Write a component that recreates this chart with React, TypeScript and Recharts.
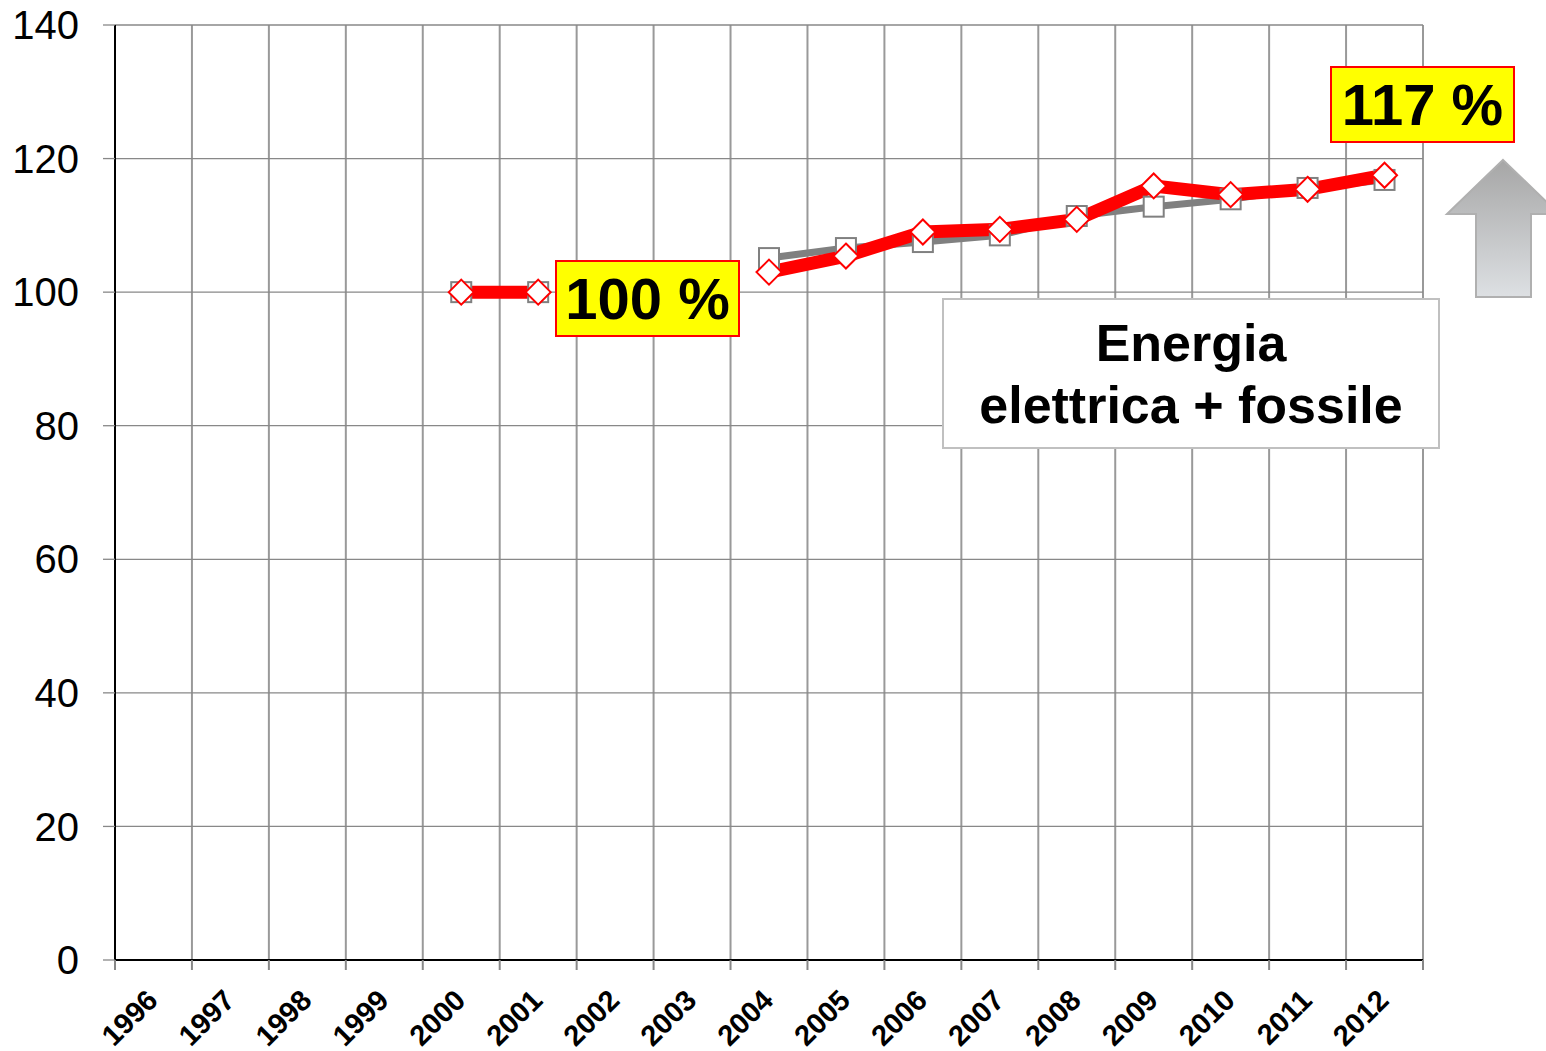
import { LineChart, Line, XAxis, YAxis, CartesianGrid } from 'recharts'

// years on the category axis
const years = [1996, 1997, 1998, 1999, 2000, 2001, 2002, 2003, 2004, 2005, 2006, 2007, 2008, 2009, 2010, 2011, 2012]

// red series: energia elettrica + fossile (index, 2000 = 100)
const totalValues = [null, null, null, null, 100, 100, null, null, 103, 105.4, 109, 109.4, 110.9, 115.9, 114.6, 115.4, 117.5]

// gray series underneath
const baseValues = [null, null, null, null, 100, 100, null, null, 105.1, 106.6, 107.5, 108.5, 111.4, 112.8, 113.9, 115.6, 116.8]

const yTicks = [0, 20, 40, 60, 80, 100, 120, 140]

const data = years.map((year, i) => ({ year, total: totalValues[i], base: baseValues[i] }))

// band edges between the years, where grid lines and tick marks sit
const edges = [...years.map((y) => y - 0.5), years[years.length - 1] + 0.5]
const xTicks = [...edges, ...years].sort((a, b) => a - b)

const FONT = '"Liberation Sans", Arial, sans-serif'

const YearTick = (props: any) => {
  const { x, y, payload } = props
  const v = payload.value
  if (!Number.isInteger(v)) {
    return <line x1={x} y1={y} x2={x} y2={y + 10} stroke="#888" strokeWidth={2} />
  }
  const tx = x + 6
  const ty = y + 42
  return (
    <text
      x={tx}
      y={ty}
      transform={`rotate(-45 ${tx} ${ty})`}
      textAnchor="end"
      fontFamily={FONT}
      fontWeight="bold"
      fontSize={29}
      fill="#000"
    >
      {v}
    </text>
  )
}

const Diamond = (props: any) => {
  const { cx, cy, index } = props
  if (cx == null || cy == null) return <g key={`dm-${index}`} />
  const r = 12.5
  return (
    <path
      key={`dm-${index}`}
      d={`M${cx},${cy - r} L${cx + r},${cy} L${cx},${cy + r} L${cx - r},${cy} Z`}
      fill="#fff"
      stroke="#ff0000"
      strokeWidth={2}
    />
  )
}

const Square = (props: any) => {
  const { cx, cy, index } = props
  if (cx == null || cy == null) return <g key={`sq-${index}`} />
  const s = 10
  return <rect key={`sq-${index}`} x={cx - s} y={cy - s} width={s * 2} height={s * 2} fill="#fff" stroke="#808080" strokeWidth={2} />
}

const yellowBox: React.CSSProperties = {
  position: 'absolute',
  width: 181,
  height: 73,
  background: '#ffff00',
  border: '2px solid #ff0000',
  fontFamily: FONT,
  fontWeight: 'bold',
  fontSize: 58,
  lineHeight: '73px',
  textAlign: 'center',
  color: '#000',
}

export default function App() {
  return (
    <div style={{ position: 'absolute', left: 0, top: 0, width: 1546, height: 1051, background: '#fff' }}>
      <LineChart width={1546} height={1051} data={data} margin={{ top: 25, right: 123, left: 0, bottom: 0 }}>
        <CartesianGrid
          horizontal={false}
          stroke="#999"
          strokeWidth={2}
          verticalCoordinatesGenerator={({ offset }: any) =>
            edges.map((e) => offset.left + ((e - edges[0]) / (edges[edges.length - 1] - edges[0])) * offset.width)
          }
        />
        <CartesianGrid vertical={false} stroke="#888" strokeWidth={1.3} />
        <XAxis
          dataKey="year"
          type="number"
          domain={[edges[0], edges[edges.length - 1]]}
          ticks={xTicks}
          interval={0}
          tick={<YearTick />}
          tickLine={false}
          tickSize={0}
          tickMargin={0}
          height={91}
          axisLine={{ stroke: '#000', strokeWidth: 2 }}
        />
        <YAxis
          domain={[0, 140]}
          ticks={yTicks}
          interval={0}
          width={115}
          tickSize={12}
          tickMargin={24}
          tickLine={{ stroke: '#888', strokeWidth: 1.3 }}
          axisLine={{ stroke: '#000', strokeWidth: 2 }}
          tick={{ fill: '#000', fontSize: 40, fontFamily: FONT }}
        />
        <Line
          dataKey="base"
          type="linear"
          stroke="#808080"
          strokeWidth={7}
          dot={<Square />}
          activeDot={false}
          isAnimationActive={false}
        />
        <Line
          dataKey="total"
          type="linear"
          stroke="#ff0000"
          strokeWidth={13}
          dot={<Diamond />}
          activeDot={false}
          isAnimationActive={false}
        />
      </LineChart>

      <div style={{ ...yellowBox, left: 555, top: 260 }}>100 %</div>
      <div style={{ ...yellowBox, left: 1330, top: 66 }}>117 %</div>

      <div
        style={{
          position: 'absolute',
          left: 942,
          top: 298,
          width: 494,
          background: '#fff',
          border: '2px solid #c0c0c0',
          fontFamily: FONT,
          fontWeight: 'bold',
          fontSize: 52,
          lineHeight: '62px',
          textAlign: 'center',
          color: '#000',
          boxSizing: 'content-box',
          paddingTop: 12,
          height: 135,
        }}
      >
        Energia
        <br />
        elettrica + fossile
      </div>

      <svg style={{ position: 'absolute', left: 0, top: 0, pointerEvents: 'none' }} width={1546} height={1051}>
        <defs>
          <linearGradient id="arrowFill" x1="0" y1="0" x2="0" y2="1">
            <stop offset="0%" stopColor="#a6a6a6" />
            <stop offset="100%" stopColor="#dde0e3" />
          </linearGradient>
        </defs>
        <polygon
          points="1503,160 1559,214 1531,214 1531,297 1476,297 1476,214 1447,214"
          fill="url(#arrowFill)"
          stroke="#b0b0b0"
          strokeWidth={2}
        />
      </svg>
    </div>
  )
}
